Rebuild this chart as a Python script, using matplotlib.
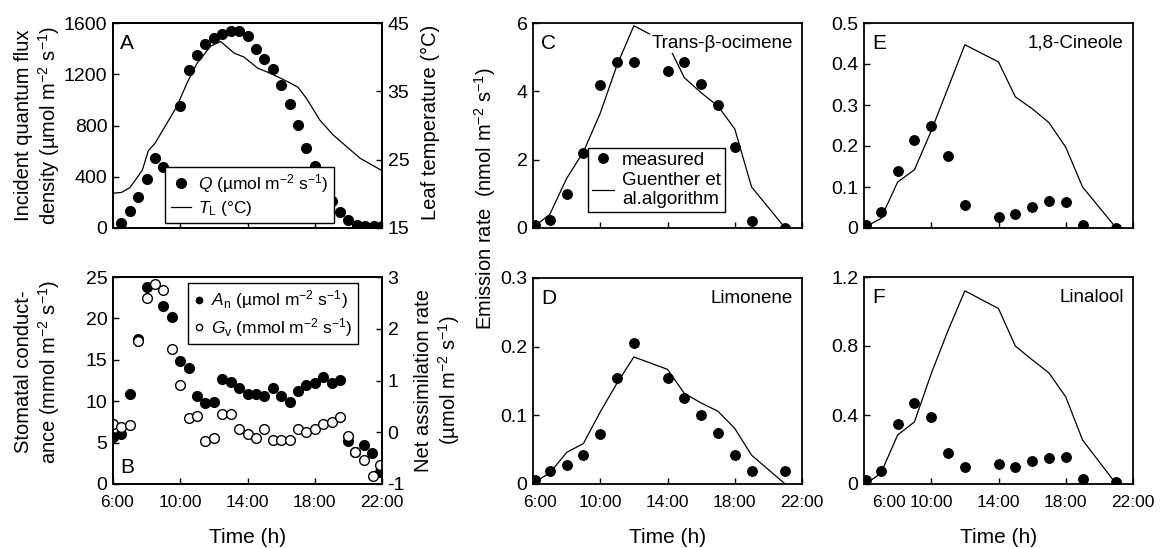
import matplotlib
matplotlib.use("Agg")
import matplotlib.pyplot as plt
import matplotlib.transforms as mtransforms

plt.rcParams["font.family"] = ["Liberation Sans", "DejaVu Sans"]
plt.rcParams["mathtext.fontset"] = "custom"
plt.rcParams["mathtext.rm"] = "Liberation Sans"
plt.rcParams["mathtext.it"] = "Liberation Sans:italic"
plt.rcParams["mathtext.default"] = "regular"

# ---- panel A: light and leaf temperature ----
t_q = [6.5, 7.0, 7.5, 8.0, 8.5, 9.0, 10.0, 10.5, 11.0, 11.5, 12.0, 12.5, 13.0,
       13.5, 14.0, 14.5, 15.0, 15.5, 16.0, 16.5, 17.0, 17.5, 18.0, 18.5, 19.0,
       19.5, 20.0, 20.5, 21.0, 21.5, 22.0]
q_vals = [39, 130, 239, 382, 546, 476, 950, 1231, 1348, 1439, 1483, 1517, 1535,
          1535, 1496, 1400, 1316, 1244, 1119, 970, 806, 624, 481, 325, 213,
          125, 65, 26, 13, 13, 13]
t_leaf = [6.0, 6.5, 7.0, 7.5, 7.75, 8.1, 8.5, 9.2, 9.8, 10.4, 11.0, 11.8, 12.4,
          13.2, 13.8, 14.6, 15.4, 16.4, 17.0, 17.5, 18.3, 19.1, 19.9, 20.7, 22.0]
leaf_temp = [20.1, 20.2, 20.9, 22.6, 23.5, 26.3, 27.4, 30.3, 32.8, 36.2, 39.1,
             41.6, 42.3, 40.6, 40.0, 38.4, 37.6, 36.4, 35.6, 34.0, 30.8, 28.6,
             26.9, 25.2, 23.4]

# ---- panel B: stomatal conductance and net assimilation ----
t_gv = [6.0, 6.5, 7.0, 7.5, 8.0, 8.5, 9.0, 9.5, 10.0, 10.5, 11.0, 11.5, 12.0,
        12.5, 13.0, 13.5, 14.0, 14.5, 15.0, 15.5, 16.0, 16.5, 17.0, 17.5, 18.0,
        18.5, 19.0, 19.5, 20.0, 20.4, 20.9, 21.45, 21.9]
gv_vals = [7.25, 6.84, 7.13, 17.3, 22.5, 24.2, 23.4, 16.3, 12.0, 8.0, 8.25, 5.23,
           5.5, 8.5, 8.5, 6.7, 6.0, 5.6, 6.6, 5.3, 5.3, 5.3, 6.6, 6.3, 6.7, 7.25,
           7.5, 8.05, 5.8, 3.9, 2.9, 0.97, 2.3]
t_an = [6.0, 6.5, 7.0, 7.5, 8.0, 9.0, 9.5, 10.0, 10.5, 11.0, 11.5, 12.0, 12.5,
        13.0, 13.5, 14.0, 14.5, 15.0, 15.5, 16.0, 16.5, 17.0, 17.5, 18.0, 18.5,
        19.0, 19.5, 20.0, 20.4, 20.9, 21.4, 21.9]
an_vals = [-0.085, -0.034, 0.74, 1.8, 2.81, 2.44, 2.22, 1.38, 1.24, 0.70, 0.56,
           0.59, 1.02, 0.98, 0.85, 0.74, 0.74, 0.70, 0.85, 0.70, 0.59, 0.79, 0.91,
           0.95, 1.07, 0.95, 1.01, -0.17, -0.38, -0.25, -0.41, -0.76]

# ---- panels C-F: emission rates, measured vs Guenther et al. ----
t_em = [6.1, 7, 8, 9, 10, 11, 12, 14, 15, 16, 17, 18, 19, 21]
ocimene_meas = [0.1, 0.22, 1.0, 2.2, 4.2, 4.87, 4.87, 4.6, 4.87, 4.22, 3.6, 2.38, 0.2, 0.0]
ocimene_mod = [0.05, 0.4, 1.45, 2.23, 3.36, 4.77, 5.92, 5.4, 4.4, 3.96, 3.57, 2.9, 1.2, 0.0]
limonene_meas = [0.006, 0.019, 0.028, 0.042, 0.073, 0.154, 0.205, 0.154, 0.125, 0.1,
                 0.074, 0.042, 0.019, 0.019]
limonene_mod = [0.003, 0.016, 0.046, 0.059, 0.105, 0.147, 0.185, 0.167, 0.132, 0.118,
                0.106, 0.081, 0.042, 0.0]
cineole_meas = [0.0065, 0.04, 0.14, 0.214, 0.249, 0.176, 0.055, 0.026, 0.033, 0.051,
                0.065, 0.063, 0.0065, 0.0]
cineole_mod = [0.003, 0.023, 0.112, 0.142, 0.237, 0.342, 0.447, 0.405, 0.32, 0.291,
               0.257, 0.197, 0.1, 0.0]
linalool_meas = [0.023, 0.077, 0.35, 0.47, 0.39, 0.18, 0.1, 0.116, 0.1, 0.133, 0.15,
                 0.154, 0.029, 0.01]
linalool_mod = [0.0, 0.062, 0.284, 0.36, 0.64, 0.89, 1.12, 1.017, 0.8, 0.72, 0.644,
                0.505, 0.255, 0.0]

x_ticks = [6, 10, 14, 18, 22]
x_ticklabels = ["6:00", "10:00", "14:00", "18:00", "22:00"]
UNIT_UMOL = "(µmol m$^{-2}$ s$^{-1}$)"
UNIT_MMOL = "(mmol m$^{-2}$ s$^{-1}$)"

W, H = 1161, 548
fig = plt.figure(figsize=(W / 100, H / 100), dpi=100)


def add_ax(left, top, right, bottom):
    """Axes from pixel box of the reference."""
    return fig.add_axes([left / W, 1 - bottom / H, (right - left) / W, (bottom - top) / H])


def style(ax, yticks, yticklabels, ylim, show_x=False, twin=False):
    ax.set_ylim(*ylim)
    if not twin:
        ax.set_xlim(6, 22)
        ax.set_xticks(x_ticks)
        ax.set_xticklabels(x_ticklabels if show_x else [])
    ax.set_yticks(yticks)
    ax.set_yticklabels(yticklabels)
    ax.tick_params(direction="in", length=4, width=1, pad=4)
    ax.tick_params(axis="y", labelsize=14)
    ax.tick_params(axis="x", labelsize=12.5, pad=8)
    for sp in ax.spines.values():
        sp.set_linewidth(1.3)
    if show_x:
        ax.set_xlabel("Time (h)", fontsize=15, labelpad=13)


def nudge_first_xlabel(ax, dx_px):
    # the reference pushes the "6:00" label right, away from the "0" y label
    tick = ax.xaxis.get_major_ticks()[0]
    off = mtransforms.ScaledTranslation(dx_px / 100, 0, fig.dpi_scale_trans)
    tick.label1.set_transform(tick.label1.get_transform() + off)


dot = dict(marker="o", color="black", ms=7, linestyle="none")
ring = dict(marker="o", mfc="white", mec="black", mew=1, ms=7, linestyle="none")
line = dict(color="black", lw=0.9)

# panel A
axA = add_ax(113, 23, 382, 228)
axA2 = axA.twinx()
axA2.plot(t_leaf, leaf_temp, label="$\\mathit{T}_{\\mathrm{L}}$ (°C)", **line)
axA.plot(t_q, q_vals, label="$\\mathit{Q}$ " + UNIT_UMOL, zorder=3, **dot)
style(axA, [0, 400, 800, 1200, 1600], ["0", "400", "800", "1200", "1600"], (0, 1600))
style(axA2, [15, 25, 35, 45], ["15", "25", "35", "45"], (15, 45), twin=True)
axA.set_zorder(axA2.get_zorder() + 1)
axA.patch.set_visible(False)
axA.text(0.026, 0.90, "A", transform=axA.transAxes, fontsize=15, va="center")
h1, l1 = axA.get_legend_handles_labels()
h2, l2 = axA2.get_legend_handles_labels()
legA = axA.legend(h1 + h2, l1 + l2, loc="upper left", bbox_to_anchor=(0.195, 0.30),
                  fontsize=12.5, frameon=True, fancybox=False, edgecolor="black",
                  framealpha=1, handlelength=1.2, handletextpad=0.4, borderpad=0.3,
                  labelspacing=0.25, borderaxespad=0)
legA.get_frame().set_linewidth(1)
fig.text(38 / W, 1 - 125 / H, "Incident quantum flux\ndensity " + UNIT_UMOL,
         rotation=90, ha="center", va="center", fontsize=14.5, linespacing=1.15)
fig.text(430 / W, 1 - 122 / H, "Leaf temperature (°C)", rotation=90,
         ha="center", va="center", fontsize=14.5)

# panel B
axB = add_ax(113, 277, 382, 484)
axB2 = axB.twinx()
axB2.plot(t_an, an_vals, label="$\\mathit{A}_{\\mathrm{n}}$ " + UNIT_UMOL, **dot)
axB.plot(t_gv, gv_vals, label="$\\mathit{G}_{\\mathrm{v}}$ " + UNIT_MMOL, **ring)
style(axB, [0, 5, 10, 15, 20, 25], ["0", "5", "10", "15", "20", "25"], (0, 25), show_x=True)
style(axB2, [-1, 0, 1, 2, 3], ["-1", "0", "1", "2", "3"], (-1, 3), twin=True)
axB.set_zorder(axB2.get_zorder() + 1)
axB.patch.set_visible(False)
axB.text(0.026, 0.08, "B", transform=axB.transAxes, fontsize=15, va="center")
h1, l1 = axB2.get_legend_handles_labels()
h2, l2 = axB.get_legend_handles_labels()
legB = axB.legend(h1 + h2, l1 + l2, loc="upper left", bbox_to_anchor=(0.28, 0.97),
                  fontsize=12.5, frameon=True, fancybox=False, edgecolor="black",
                  framealpha=1, markerscale=0.65, handlelength=0.6, handletextpad=0.4,
                  borderpad=0.3, labelspacing=0.25, borderaxespad=0)
legB.get_frame().set_linewidth(1)
nudge_first_xlabel(axB, 4)
fig.text(38 / W, 1 - 372 / H, "Stomatal conduct-\nance " + UNIT_MMOL,
         rotation=90, ha="center", va="center", fontsize=14.5, linespacing=1.15)
fig.text(438 / W, 1 - 380 / H, "Net assimilation rate\n" + UNIT_UMOL, rotation=90,
         ha="center", va="center", fontsize=14.5, linespacing=1.15)

# panels C-F
panels = [
    ("C", "Trans-β-ocimene", ocimene_meas, ocimene_mod, (533, 23, 802, 228),
     [0, 2, 4, 6], ["0", "2", "4", "6"], (0, 6), False, 0),
    ("D", "Limonene", limonene_meas, limonene_mod, (533, 278, 802, 484),
     [0, 0.1, 0.2, 0.3], ["0", "0.1", "0.2", "0.3"], (0, 0.3), True, 7),
    ("E", "1,8-Cineole", cineole_meas, cineole_mod, (864, 23, 1133, 228),
     [0, 0.1, 0.2, 0.3, 0.4, 0.5], ["0", "0.1", "0.2", "0.3", "0.4", "0.5"], (0, 0.5), False, 0),
    ("F", "Linalool", linalool_meas, linalool_mod, (864, 277, 1133, 484),
     [0, 0.4, 0.8, 1.2], ["0", "0.4", "0.8", "1.2"], (0, 1.2), True, 25),
]
axes_em = {}
for letter, name, meas, mod, box, yt, ytl, ylim, show_x, dx in panels:
    ax = add_ax(*box)
    ax.plot(t_em, mod, label="Guenther et\nal.algorithm", **line)
    ax.plot(t_em, meas, label="measured", ms=6.8, marker="o", color="black", linestyle="none")
    style(ax, yt, ytl, ylim, show_x=show_x)
    if dx:
        nudge_first_xlabel(ax, dx)
    ax.text(0.03, 0.90, letter, transform=ax.transAxes, fontsize=15, va="center")
    ax.text(0.965, 0.90, name, transform=ax.transAxes, fontsize=13.5, va="center",
            ha="right", bbox=dict(facecolor="white", edgecolor="none", pad=1))
    axes_em[letter] = ax

h, l = axes_em["C"].get_legend_handles_labels()
legC = axes_em["C"].legend(h[::-1], l[::-1], loc="upper left", bbox_to_anchor=(0.205, 0.39),
                           fontsize=13.5, frameon=True, fancybox=False, edgecolor="black",
                           framealpha=1, handlelength=1.2, handletextpad=0.4, borderpad=0.2,
                           labelspacing=0.15, borderaxespad=0)
legC.get_frame().set_linewidth(1)

fig.text(485 / W, 1 - 199 / H, "Emission rate  (nmol m$^{-2}$ s$^{-1}$)", rotation=90,
         ha="center", va="center", fontsize=14.5)

fig.savefig("out.png", dpi=100)
